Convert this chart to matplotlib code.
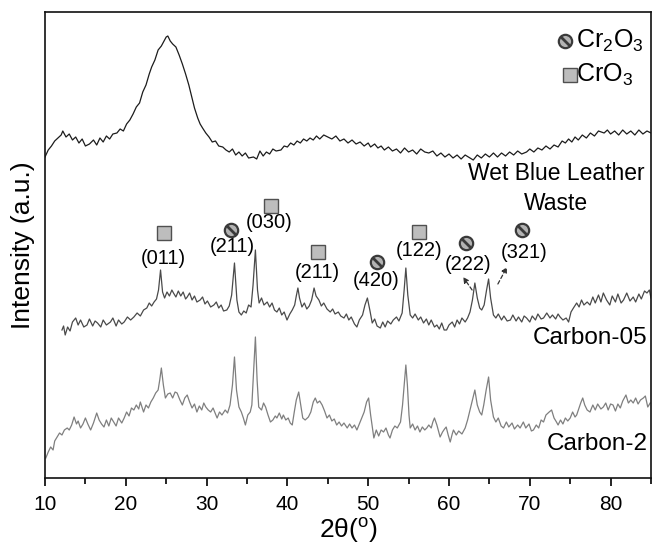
import matplotlib
matplotlib.use('Agg')
import matplotlib.pyplot as plt
from matplotlib.path import Path
from matplotlib.ticker import MultipleLocator

# ---------------- data (2theta in degrees, intensity in a.u., offsets included) -------------
wet_x = [10.0, 10.4, 10.8, 11.2, 11.6, 12.0, 12.2, 12.6, 13.0, 13.4, 13.8, 14.2, 14.6, 15.0, 15.5,
         16.0, 16.4, 16.8, 17.2, 17.6, 18.0, 18.4, 18.9, 19.3, 19.7, 20.1, 20.5, 20.9, 21.3, 21.7,
         22.1, 22.5, 22.9, 23.2, 23.6, 24.0, 24.4, 24.8, 25.0, 25.2, 25.5, 25.8, 26.2, 26.6, 27.0,
         27.4, 27.8, 28.1, 28.5, 28.9, 29.2, 29.5, 29.9, 30.3, 30.7, 31.1, 31.5, 32.0, 32.4, 32.8,
         33.2, 33.6, 34.0, 34.4, 34.8, 35.2, 35.8, 36.2, 36.6, 37.0, 37.4, 37.8, 38.2, 38.6, 39.2,
         39.6, 40.0, 40.4, 40.8, 41.2, 41.6, 42.0, 42.4, 42.8, 43.2, 43.6, 44.0, 44.5, 45.0, 45.5,
         46.0, 46.5, 47.0, 47.5, 48.0, 48.5, 49.0, 49.5, 50.0, 50.3, 50.8, 51.2, 51.6, 52.0, 52.5,
         53.0, 53.5, 54.0, 54.5, 55.0, 55.5, 56.0, 56.5, 57.0, 57.5, 58.0, 58.5, 59.0, 59.5, 60.0,
         60.5, 61.0, 61.5, 62.0, 62.4, 63.0, 63.5, 64.0, 64.5, 65.0, 65.5, 66.0, 66.5, 67.0, 67.5,
         68.0, 68.5, 69.0, 69.6, 70.0, 70.5, 71.0, 71.5, 72.0, 72.5, 73.0, 73.5, 74.0, 74.4, 74.8,
         75.2, 75.6, 76.0, 76.5, 77.0, 77.5, 78.0, 78.5, 79.2, 79.6, 80.0, 80.5, 81.0, 81.5, 82.0,
         82.5, 83.0, 83.5, 84.0, 84.5, 85.0]
wet_y = [321, 328, 332, 337, 340, 343, 347, 341, 344, 338, 341, 335, 339, 332, 334,
         338, 333, 340, 336, 342, 339, 344, 345, 349, 347, 354, 358, 364, 371, 375,
         386, 393, 404, 411, 418, 428, 432, 438, 441, 442, 437, 434, 431, 423, 414,
         404, 393, 383, 370, 360, 354, 350, 345, 341, 336, 337, 332, 331, 328, 326,
         329, 323, 326, 322, 325, 320, 321, 319, 327, 322, 326, 324, 329, 327, 328,
         332, 331, 335, 333, 337, 335, 339, 337, 340, 338, 342, 339, 343, 341, 339,
         342, 337, 339, 335, 338, 334, 336, 332, 335, 331, 334, 330, 332, 328, 331,
         327, 329, 325, 330, 326, 328, 324, 329, 326, 325, 327, 322, 325, 321, 324,
         320, 323, 319, 323, 321, 318, 323, 320, 324, 321, 325, 321, 325, 322, 326,
         323, 327, 324, 326, 329, 326, 330, 328, 332, 329, 333, 331, 337, 335, 339,
         336, 341, 338, 343, 340, 345, 342, 347, 345, 348, 344, 347, 343, 348, 344,
         347, 343, 348, 344, 347, 345]

c05_x = [12.1, 12.3, 12.5, 12.8, 13.1, 13.4, 13.8, 14.1, 14.4, 14.8, 15.2, 15.5, 15.9, 16.2, 16.5,
         16.9, 17.2, 17.6, 18.1, 18.4, 18.8, 19.1, 19.5, 19.8, 20.2, 20.6, 21.0, 21.4, 21.8, 22.2,
         22.6, 22.9, 23.2, 23.5, 23.8, 24.05, 24.3, 24.55, 24.8, 25.1, 25.4, 25.7, 25.9, 26.2, 26.5,
         26.8, 27.1, 27.4, 27.6, 27.9, 28.2, 28.5, 28.8, 29.2, 29.5, 29.8, 30.1, 30.5, 30.9, 31.2,
         31.5, 31.8, 32.1, 32.5, 32.8, 33.1, 33.45, 33.75, 34.0, 34.3, 34.6, 34.9, 35.2, 35.5, 35.75,
         36.04, 36.3, 36.5, 36.8, 37.1, 37.5, 37.8, 38.1, 38.4, 38.7, 39.0, 39.3, 39.6, 39.95, 40.3,
         40.6, 40.9, 41.1, 41.3, 41.5, 41.8, 42.1, 42.4, 42.7, 43.0, 43.3, 43.55, 43.9, 44.2, 44.5,
         44.9, 45.3, 45.6, 45.9, 46.3, 46.6, 47.0, 47.3, 47.6, 47.9, 48.3, 48.6, 48.9, 49.3, 49.6,
         49.9, 50.2, 50.5, 50.8, 51.1, 51.5, 51.8, 52.1, 52.4, 52.8, 53.1, 53.5, 53.8, 54.2, 54.45,
         54.66, 54.9, 55.2, 55.5, 55.8, 56.2, 56.5, 56.85, 57.2, 57.5, 57.8, 58.2, 58.5, 58.8, 59.1,
         59.4, 59.7, 60.0, 60.4, 60.7, 61.0, 61.3, 61.6, 62.0, 62.3, 62.6, 62.9, 63.2, 63.5, 63.8,
         64.05, 64.35, 64.65, 64.9, 65.15, 65.5, 65.8, 66.1, 66.5, 66.8, 67.2, 67.6, 67.9, 68.3, 68.6,
         69.0, 69.3, 69.6, 70.0, 70.3, 70.7, 71.0, 71.4, 71.7, 72.1, 72.5, 72.8, 73.2, 73.5, 73.75,
         74.1, 74.5, 74.8, 75.1, 75.4, 75.8, 76.1, 76.4, 76.7, 77.1, 77.45, 77.8, 78.1, 78.5, 78.8,
         79.1, 79.5, 79.9, 80.2, 80.6, 80.9, 81.3, 81.6, 82.0, 82.4, 82.8, 83.1, 83.5, 83.8, 84.2,
         84.5, 84.8, 85.0]
c05_y = [148, 152, 143, 151, 147, 156, 160, 153, 158, 151, 153, 159, 152, 157, 155,
         151, 158, 153, 156, 160, 152, 158, 154, 156, 161, 158, 161, 165, 162, 168,
         170, 175, 172, 176, 179, 188, 208, 186, 180, 186, 182, 188, 185, 181, 187,
         182, 186, 179, 181, 185, 178, 182, 176, 178, 181, 174, 177, 171, 173, 176,
         170, 173, 167, 168, 172, 183, 215, 178, 166, 163, 167, 165, 173, 171, 193,
         228, 188, 175, 180, 173, 176, 171, 175, 168, 166, 170, 163, 166, 158, 164,
         168, 173, 182, 190, 180, 171, 175, 169, 172, 178, 190, 182, 178, 172, 175,
         169, 166, 169, 164, 166, 162, 160, 164, 158, 161, 154, 151, 158, 163, 173,
         180, 168, 155, 159, 152, 150, 156, 151, 157, 154, 158, 161, 157, 165, 188,
         210, 183, 163, 160, 164, 158, 161, 155, 159, 153, 158, 151, 153, 149, 155,
         148, 148, 153, 156, 151, 158, 154, 160, 156, 160, 166, 178, 195, 180, 170,
         168, 173, 188, 199, 180, 163, 160, 164, 158, 162, 157, 158, 163, 157, 161,
         156, 162, 160, 156, 162, 158, 164, 159, 160, 165, 160, 163, 159, 164, 161,
         158, 160, 156, 166, 170, 175, 171, 178, 173, 176, 173, 181, 175, 183, 176,
         185, 178, 173, 182, 176, 184, 175, 178, 185, 177, 181, 176, 184, 179, 187,
         185, 188, 180]

c2_x = [10.1, 10.4, 10.7, 11.0, 11.2, 11.5, 11.8, 12.1, 12.4, 12.75, 13.0, 13.3, 13.6, 13.9, 14.1,
        14.4, 14.7, 15.0, 15.3, 15.65, 16.0, 16.4, 16.7, 17.0, 17.3, 17.6, 17.9, 18.2, 18.5, 18.8,
        19.1, 19.5, 19.8, 20.1, 20.4, 20.7, 21.0, 21.3, 21.6, 21.8, 22.0, 22.2, 22.5, 22.8, 23.1,
        23.4, 23.7, 24.0, 24.2, 24.4, 24.65, 24.9, 25.2, 25.5, 25.8, 26.1, 26.35, 26.7, 27.0, 27.3,
        27.6, 27.9, 28.2, 28.5, 28.8, 29.1, 29.4, 29.65, 29.9, 30.2, 30.5, 30.8, 31.1, 31.3, 31.6,
        31.9, 32.3, 32.6, 32.9, 33.2, 33.45, 33.7, 34.0, 34.3, 34.55, 34.8, 35.1, 35.4, 35.6, 35.8,
        36.04, 36.25, 36.45, 36.8, 37.05, 37.3, 37.6, 37.9, 38.2, 38.5, 38.7, 39.0, 39.3, 39.5, 39.8,
        40.1, 40.35, 40.6, 40.85, 41.1, 41.4, 41.65, 41.9, 42.2, 42.6, 42.9, 43.2, 43.45, 43.7, 44.0,
        44.3, 44.6, 44.9, 45.2, 45.5, 45.8, 46.1, 46.4, 46.7, 47.0, 47.4, 47.7, 48.0, 48.3, 48.6,
        48.9, 49.2, 49.5, 49.8, 50.05, 50.3, 50.7, 51.0, 51.3, 51.6, 51.9, 52.2, 52.5, 52.7, 53.0,
        53.3, 53.6, 54.0, 54.25, 54.45, 54.66, 54.85, 55.05, 55.2, 55.5, 55.8, 56.1, 56.4, 56.7, 57.0,
        57.25, 57.5, 57.8, 58.0, 58.2, 58.5, 58.9, 59.2, 59.45, 59.65, 59.9, 60.15, 60.4, 60.55, 60.9,
        61.2, 61.6, 62.0, 62.3, 62.6, 62.9, 63.2, 63.5, 63.8, 64.05, 64.3, 64.6, 64.9, 65.15, 65.5,
        65.8, 66.1, 66.45, 66.75, 67.1, 67.4, 67.8, 68.1, 68.5, 68.8, 69.2, 69.5, 69.9, 70.2, 70.45,
        70.8, 71.1, 71.4, 71.7, 72.0, 72.4, 72.7, 73.0, 73.3, 73.5, 73.8, 74.1, 74.4, 74.7, 75.0,
        75.3, 75.6, 75.8, 76.1, 76.3, 76.55, 76.8, 77.1, 77.45, 77.8, 78.1, 78.4, 78.8, 79.1, 79.4,
        79.7, 80.0, 80.3, 80.6, 80.9, 81.2, 81.5, 81.9, 82.2, 82.5, 82.8, 83.1, 83.4, 83.7, 84.05,
        84.3, 84.6, 84.9]
c2_y = [20, 26, 31, 28, 37, 41, 45, 43, 48, 50, 48, 53, 61, 54, 57,
        50, 54, 60, 54, 48, 55, 65, 58, 54, 51, 58, 52, 60, 56, 52,
        60, 55, 60, 66, 62, 70, 68, 73, 69, 76, 71, 66, 73, 70, 76,
        80, 85, 88, 98, 110, 93, 80, 84, 85, 80, 86, 85, 78, 73, 80,
        83, 76, 70, 74, 66, 72, 68, 75, 71, 68, 66, 70, 64, 60, 66,
        63, 68, 65, 73, 93, 121, 88, 71, 66, 60, 53, 63, 66, 73, 103,
        141, 98, 71, 68, 75, 71, 63, 56, 58, 62, 60, 65, 59, 63, 58,
        60, 55, 53, 66, 78, 86, 73, 60, 58, 61, 66, 76, 80, 75, 77,
        73, 67, 60, 63, 57, 59, 53, 56, 52, 55, 50, 54, 50, 53, 48,
        54, 60, 66, 76, 80, 63, 40, 48, 42, 48, 46, 50, 43, 40, 48,
        52, 50, 56, 73, 93, 113, 93, 63, 50, 54, 48, 52, 46, 51, 48,
        50, 53, 50, 56, 60, 53, 41, 46, 49, 51, 43, 36, 44, 48, 43,
        47, 44, 50, 58, 68, 78, 88, 73, 66, 63, 73, 88, 101, 78, 61,
        56, 60, 52, 50, 56, 51, 55, 49, 53, 50, 56, 50, 54, 47, 48,
        53, 50, 58, 56, 63, 66, 68, 60, 56, 53, 58, 54, 60, 57, 60,
        66, 61, 63, 70, 75, 80, 73, 68, 66, 73, 68, 74, 69, 71, 75,
        68, 74, 73, 67, 74, 70, 77, 83, 75, 78, 75, 80, 74, 78, 80,
        82, 71, 75]

curve_labels = ['Wet Blue Leather', 'Waste', 'Carbon-05', 'Carbon-2']

# peak assignments: (label, text x, text y, phase, symbol x, symbol y)
hkl_text = ['(011)', '(211)', '(030)', '(211)', '(420)', '(122)', '(222)', '(321)']
hkl_tx = [24.67, 33.14, 37.72, 43.66, 50.97, 56.29, 62.41, 69.34]
hkl_ty = [220, 231, 255, 206, 198, 228, 213, 225]
hkl_phase = ['CrO3', 'Cr2O3', 'CrO3', 'CrO3', 'Cr2O3', 'CrO3', 'Cr2O3', 'Cr2O3']
hkl_sx = [24.73, 33.02, 37.97, 43.79, 51.05, 56.29, 62.10, 69.00]
hkl_sy = [245, 248, 272, 226, 216, 246, 235, 248]

# ---------------- style ----------------
plt.rcParams['font.family'] = ['Liberation Sans', 'DejaVu Sans']
plt.rcParams['mathtext.fontset'] = 'custom'
plt.rcParams['mathtext.rm'] = 'Liberation Sans'
plt.rcParams['mathtext.it'] = 'Liberation Sans:italic'

fig = plt.figure(figsize=(6.52, 5.55), dpi=100)
ax = fig.add_axes([45 / 652, 77 / 555, 606 / 652, 466 / 555])

ax.plot(wet_x, wet_y, color='#1c1c1c', lw=0.9)
ax.plot(c05_x, c05_y, color='#4a4a4a', lw=0.9)
ax.plot(c2_x, c2_y, color='#7f7f7f', lw=0.9)

ax.set_xlim(10, 85)
ax.set_ylim(0, 466)
ax.set_yticks([])
ax.xaxis.set_major_locator(MultipleLocator(10))
ax.xaxis.set_minor_locator(MultipleLocator(5))
ax.tick_params(axis='x', which='major', direction='out', length=6, width=1.2,
               labelsize=15, pad=6)
ax.tick_params(axis='x', which='minor', direction='out', length=4, width=1.2)
for s in ax.spines.values():
    s.set_linewidth(1.2)
    s.set_color('#111111')

ax.set_xlabel('2θ($^{\\mathrm{o}}$)', fontsize=19, labelpad=2)
ax.set_ylabel('Intensity (a.u.)', fontsize=19, labelpad=7)

# curve labels
ax.text(73.24, 304, curve_labels[0], fontsize=16.5, ha='center', va='center')
ax.text(73.24, 275, curve_labels[1], fontsize=16.5, ha='center', va='center')
ax.text(84.6, 140, curve_labels[2], fontsize=17.5, ha='right', va='center')
ax.text(84.6, 34, curve_labels[3], fontsize=17.5, ha='right', va='center')

slash = Path([(-1, 1), (1, -1)])


def draw_symbol(x, y, phase):
    if phase == 'Cr2O3':
        ax.plot([x], [y], marker='o', ms=9.6, mfc='#b3b3b3', mec='#3a3a3a', mew=1.6,
                ls='none', zorder=5)
        ax.plot([x], [y], marker=slash, ms=7.0, mec='#3a3a3a', mew=2.0,
                ls='none', zorder=6)
    else:
        ax.plot([x], [y], marker='s', ms=9.4, mfc='#bdbdbd', mec='#505050', mew=1.0,
                ls='none', zorder=5)


for t, tx, ty, ph, sx, sy in zip(hkl_text, hkl_tx, hkl_ty, hkl_phase, hkl_sx, hkl_sy):
    ax.text(tx, ty, t, fontsize=14.5, ha='center', va='center')
    draw_symbol(sx, sy, ph)

# dashed arrows for (222) and (321)
arrow_kw = dict(arrowstyle='-|>', color='#333333', lw=0.9, ls=(0, (3, 2)),
                mutation_scale=8, shrinkA=0, shrinkB=0)
ax.annotate('', xy=(61.75, 201), xytext=(62.86, 188), arrowprops=arrow_kw)
ax.annotate('', xy=(67.18, 211), xytext=(66.05, 194), arrowprops=arrow_kw)

# legend
draw_symbol(74.36, 437, 'Cr2O3')
ax.text(75.7, 430, 'Cr$_2$O$_3$', fontsize=18, ha='left', va='baseline')
draw_symbol(74.98, 403, 'CrO3')
ax.text(75.7, 396, 'CrO$_3$', fontsize=18, ha='left', va='baseline')

fig.savefig('out.png', dpi=100)
